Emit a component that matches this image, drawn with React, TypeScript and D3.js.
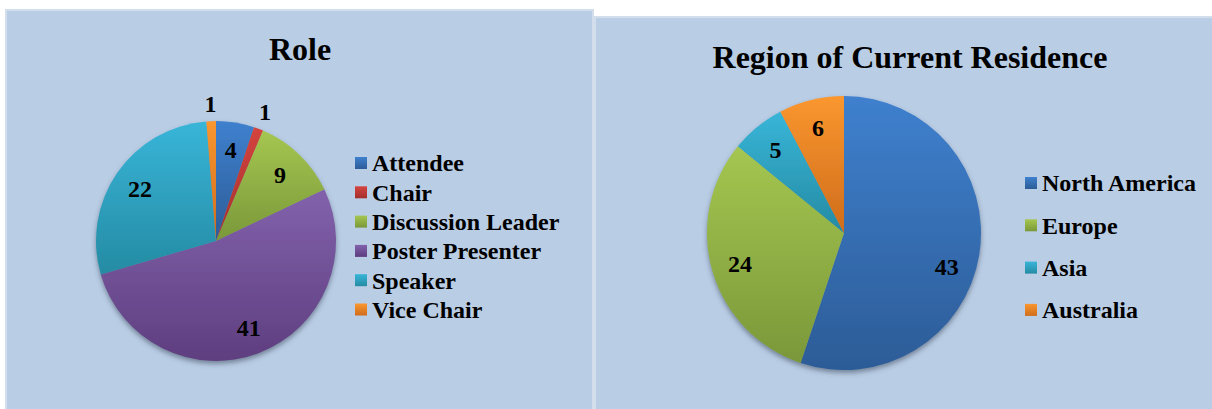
import React from "react";
import * as d3 from "d3";

const roleCategories = ["Attendee", "Chair", "Discussion Leader", "Poster Presenter", "Speaker", "Vice Chair"];
const roleValues = [4, 1, 9, 41, 22, 1];
const regionCategories = ["North America", "Europe", "Asia", "Australia"];
const regionValues = [43, 24, 5, 6];

const COLORS: Record<string, [string, string]> = {
  blue: ["#3F80CE", "#2C5C97"],
  red: ["#D4443F", "#A32F2C"],
  green: ["#A5C650", "#7A9839"],
  purple: ["#8262AC", "#5E3E7F"],
  cyan: ["#38B5D8", "#258BA3"],
  orange: ["#FA972F", "#CF6C1B"],
};
const roleColors = ["blue", "red", "green", "purple", "cyan", "orange"];
const regionColors = ["blue", "green", "cyan", "orange"];

const FONT = "'Liberation Serif', 'Times New Roman', serif";

type PieProps = {
  cats: string[];
  vals: number[];
  colors: string[];
  cx: number;
  cy: number;
  r: number;
  labelRatio: number;
  bigShift: number;
};

function Pie({ cats, vals, colors, cx, cy, r, labelRatio, bigShift }: PieProps) {
  const total = d3.sum(vals);
  const pie = d3.pie<number>().sort(null).value((d) => d);
  const arcs = pie(vals);
  const arc = d3.arc<d3.PieArcDatum<number>>().innerRadius(0).outerRadius(r);
  const inArc = d3.arc<d3.PieArcDatum<number>>().innerRadius(r * labelRatio).outerRadius(r * labelRatio);
  const outArc = d3.arc<d3.PieArcDatum<number>>().innerRadius(r * 1.15).outerRadius(r * 1.15);
  return (
    <g transform={`translate(${cx},${cy})`}>
      <g filter={`url(#shadow)`}>
        {arcs.map((a, i) => (
          <path key={cats[i]} d={arc(a) || ""} fill={`url(#grad-${colors[i]})`} />
        ))}
      </g>
      {arcs.map((a, i) => {
        const small = a.data / total < 0.03;
        const large = a.data / total > 0.5;
        const lab = large
          ? { ...a, startAngle: a.startAngle + (a.endAngle - a.startAngle) * bigShift }
          : a;
        const [x, y] = small ? outArc.centroid(a) : inArc.centroid(lab);
        return (
          <text
            key={"l" + i}
            x={x}
            y={y}
            dy="0.35em"
            textAnchor="middle"
            fontFamily={FONT}
            fontWeight="bold"
            fontSize={24}
            fill="#000"
          >
            {a.data}
          </text>
        );
      })}
    </g>
  );
}

function Legend({ cats, colors, x, y, step }: { cats: string[]; colors: string[]; x: number; y: number; step: number }) {
  return (
    <g>
      {cats.map((c, i) => (
        <g key={c} transform={`translate(${x},${y + i * step})`}>
          <rect x={0} y={-6} width={12} height={12} fill={`url(#grad-${colors[i]})`} />
          <text x={17} y={0} dy="0.35em" fontFamily={FONT} fontWeight="bold" fontSize={24} fill="#000">
            {c}
          </text>
        </g>
      ))}
    </g>
  );
}

export default function App() {
  return (
    <svg
      width={1212}
      height={409}
      style={{ position: "absolute", left: 0, top: 0, display: "block" }}
    >
      <defs>
        {Object.entries(COLORS).map(([k, [a, b]]) => (
          <linearGradient key={k} id={`grad-${k}`} x1="0" y1="0" x2="0" y2="1">
            <stop offset="0" stopColor={a} />
            <stop offset="1" stopColor={b} />
          </linearGradient>
        ))}
        <filter id="shadow" x="-20%" y="-20%" width="140%" height="140%">
          <feDropShadow dx="0" dy="3" stdDeviation="2.5" floodColor="#3a4a5a" floodOpacity="0.55" />
        </filter>
      </defs>
      <rect x={0} y={0} width={1212} height={409} fill="#ffffff" />
      <rect x={6} y={10} width={587} height={402} fill="#B9CDE5" stroke="#D3DEED" strokeWidth={2} />
      <rect x={595} y={17} width={620} height={395} fill="#B9CDE5" stroke="#D3DEED" strokeWidth={2} />

      <text x={300} y={60} textAnchor="middle" fontFamily={FONT} fontWeight="bold" fontSize={32} fill="#000">
        Role
      </text>
      <Pie cats={roleCategories} vals={roleValues} colors={roleColors} cx={216} cy={241} r={120} labelRatio={0.77} bigShift={0} />
      <Legend cats={roleCategories} colors={roleColors} x={355} y={163} step={29.3} />

      <text x={910} y={68} textAnchor="middle" fontFamily={FONT} fontWeight="bold" fontSize={32} fill="#000">
        Region of Current Residence
      </text>
      <Pie cats={regionCategories} vals={regionValues} colors={regionColors} cx={844} cy={233} r={137} labelRatio={0.79} bigShift={0.09} />
      <Legend cats={regionCategories} colors={regionColors} x={1025} y={183} step={42.3} />
    </svg>
  );
}
